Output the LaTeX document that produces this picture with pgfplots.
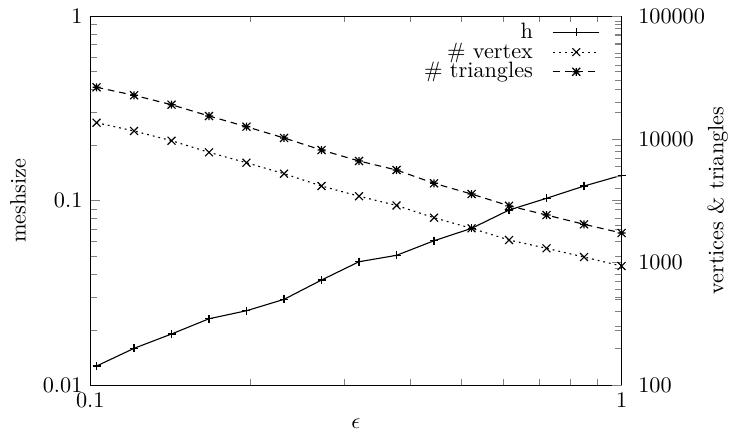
\documentclass[border=0pt]{standalone}
\usepackage{pgfplots}
\usepackage{pgfplotstable}
\pgfplotsset{compat=1.18}

% gnuplot-like star: + and x on top of each other
\pgfdeclareplotmark{gstar}{%
  \pgfpathmoveto{\pgfqpoint{-\pgfplotmarksize}{0pt}}%
  \pgfpathlineto{\pgfqpoint{\pgfplotmarksize}{0pt}}%
  \pgfpathmoveto{\pgfqpoint{0pt}{-\pgfplotmarksize}}%
  \pgfpathlineto{\pgfqpoint{0pt}{\pgfplotmarksize}}%
  \pgfpathmoveto{\pgfqpoint{-\pgfplotmarksize}{-\pgfplotmarksize}}%
  \pgfpathlineto{\pgfqpoint{\pgfplotmarksize}{\pgfplotmarksize}}%
  \pgfpathmoveto{\pgfqpoint{-\pgfplotmarksize}{\pgfplotmarksize}}%
  \pgfpathlineto{\pgfqpoint{\pgfplotmarksize}{-\pgfplotmarksize}}%
  \pgfusepathqstroke}

\pgfplotstableread{
eps      h       nv     nt
0.10277  0.01272 13590  26360
0.12091  0.01586 11640  22700
0.14224  0.01897  9705  19030
0.16734  0.02294  7810  15400
0.19687  0.02535  6430  12610
0.23162  0.02922  5235  10210
0.27249  0.03718  4160   8150
0.32058  0.04670  3436   6640
0.37715  0.05058  2890   5610
0.44371  0.06069  2299   4375
0.52201  0.07080  1885   3580
0.61413  0.08896  1515   2872
0.72250  0.10300  1297   2417
0.85000  0.12000  1102   2032
1.00000  0.13720   931   1727
}\meshdata

\begin{document}
\begin{tikzpicture}
\path[use as bounding box] (-40.6pt,-21.5pt) rectangle (287.9pt,173.4pt);

%-----------------------------
% left axis: mesh size
%-----------------------------
\begin{axis}[
    scale only axis,
    width=239.1pt,
    height=166.2pt,
    xmode=log, ymode=log,
    xmin=0.1, xmax=1,
    ymin=0.01, ymax=1,
    log ticks with fixed point,
    tick align=inside,
    xlabel={$\epsilon$},
    ylabel={meshsize},
    xlabel style={at={(axis description cs:0.5,-0.105)},anchor=center},
    ylabel style={at={(axis description cs:-0.136,0.5)},anchor=center},
]
\addplot[black, line width=0.5pt, mark=+, mark size=1.8pt]
    table[x=eps, y=h] {\meshdata};
\end{axis}

%-----------------------------
% right axis: counts
%-----------------------------
\begin{axis}[
    scale only axis,
    width=239.1pt,
    height=166.2pt,
    xmode=log, ymode=log,
    xmin=0.1, xmax=1,
    ymin=100, ymax=100000,
    axis x line=none,
    axis y line*=right,
    tick align=inside,
    log ticks with fixed point,
    yticklabel style={/pgf/number format/1000 sep={}, xshift=4pt},
    ylabel={vertices \& triangles},
    ylabel style={at={(axis description cs:1.181,0.5)},anchor=center},
    legend style={at={(axis description cs:0.972,1.006)}, anchor=north east,
        draw=none, fill=none, row sep=-3.6pt,
        /tikz/every odd column/.append style={column sep=7pt}},
    legend cell align=right,
    legend plot pos=right,
    legend image code/.code={%
        \draw[mark repeat=2,mark phase=2,#1]
        plot coordinates {(0cm,0cm) (0.36cm,0cm) (0.72cm,0cm)};},
]
\addlegendimage{black, line width=0.5pt, mark=+, mark size=1.8pt}
\addplot[black, line width=0.5pt, dash pattern=on 0.8pt off 1.8pt,
    mark=x, mark size=2.5pt, mark options={solid}]
    table[x=eps, y=nv] {\meshdata};
\addplot[black, line width=0.5pt, dash pattern=on 3pt off 2.2pt,
    mark=gstar, mark size=1.8pt, mark options={solid}]
    table[x=eps, y=nt] {\meshdata};
\legend{h, \# vertex, \# triangles}
\end{axis}

\end{tikzpicture}
\end{document}
